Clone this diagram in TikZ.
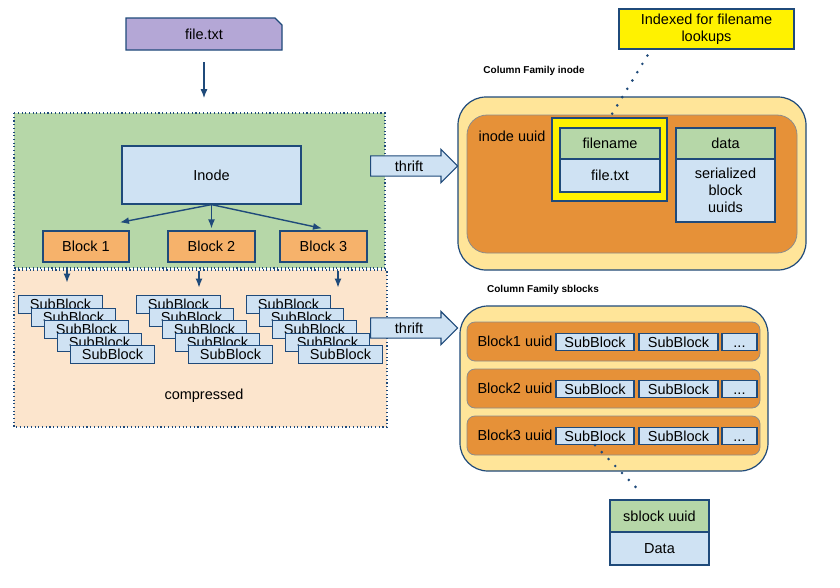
\documentclass[tikz,border=0pt]{standalone}
\usepackage{fontspec}
\setmainfont{Liberation Sans}
\usetikzlibrary{arrows.meta,shapes.arrows}
\definecolor{navy}{HTML}{1F4A7A}
\definecolor{purp}{HTML}{B4A7D6}
\definecolor{green1}{HTML}{B6D7A8}
\definecolor{peach}{HTML}{FCE5CD}
\definecolor{lblue}{HTML}{CFE2F3}
\definecolor{orng}{HTML}{F6B26B}
\definecolor{dorng}{HTML}{E69138}
\definecolor{cream}{HTML}{FFE599}
\begin{document}
\begin{tikzpicture}[x=1pt, y=-1pt,
    every node/.style={font=\fontsize{14.5}{17}\selectfont, inner sep=0pt},
    cellbox/.style={draw=navy, line width=1.2pt, fill=#1},
    arr/.style={-{Latex[length=9pt,width=7pt]}, draw=navy, line width=1.4pt},
    region/.style={draw=navy, line width=1.1pt, dash pattern=on 1.1pt off 2.6pt, fill=#1},
    dotline/.style={draw=navy, line width=2.9pt, line cap=round, dash pattern=on 0pt off 9.7pt},
    cflabel/.style={font=\fontsize{10}{12}\selectfont\bfseries},
    family/.style={draw=navy, line width=1.2pt, fill=cream, rounded corners=28pt},
    rowbox/.style={draw=black!45, line width=0.8pt, fill=dorng},
    thrift/.style={single arrow, draw=navy, line width=1.2pt, fill=lblue,
        single arrow head extend=6.5pt, inner xsep=2pt, inner ysep=4.2pt,
        minimum height=87pt, anchor=tail}]
    \useasboundingbox (0,0) rectangle (840,587);
    \fill[white] (0,0) rectangle (840,587);

    % Regions
    \path[region=green1] (14,113) rectangle (385,268);
    \path[region=peach] (14,270) rectangle (387,427);

    % File
    \filldraw[fill=purp, draw=navy, line width=1.2pt] (126,18) -- (275,18) -- (282,25) -- (282,50) -- (126,50) -- cycle;
    \node[minimum width=156pt, minimum height=32pt] (file) at (204,34) {file.txt};
    \draw[arr] ([yshift=-12pt]file.south) -- ++(0,36);

    % Inode and blocks
    \node[cellbox=lblue, minimum width=179pt, minimum height=58pt] (inode) at (211.5,175) {Inode};
    \node[cellbox=orng, minimum width=86pt, minimum height=31pt] (blk1) at (86,246.5) {Block 1};
    \node[cellbox=orng, minimum width=87pt, minimum height=31pt] (blk2) at (211.5,246.5) {Block 2};
    \node[cellbox=orng, minimum width=87pt, minimum height=31pt] (blk3) at (323.5,246.5) {Block 3};
    \draw[arr] (inode.south) -- ([xshift=34pt,yshift=8pt]blk1.north);
    \draw[arr] (inode.south) -- ([yshift=2pt]blk2.north);
    \draw[arr] (inode.south) -- ([xshift=-1.5pt,yshift=2pt]blk3.north);
    \draw[arr] ([xshift=-19pt,yshift=-4pt]blk1.south) -- ++(0,16);
    \draw[arr] ([xshift=-12.5pt,yshift=-8pt]blk2.south) -- ++(0,17);
    \draw[arr] ([xshift=14.5pt,yshift=-8pt]blk3.south) -- ++(0,17);

    % SubBlock stacks
    \foreach \s/\x in {1/18,2/136,3/246}
        \foreach \i in {0,...,4}
            \node[cellbox=lblue, minimum width=84pt, minimum height=18pt, anchor=north west]
                (sb\s\i) at ({\x+13*\i},{295+12.5*\i}) {SubBlock};
    \node (comp) at (204,396) {compressed};

    % thrift
    \node[thrift] (thr1) at (370,166) {thrift};
    \node[thrift] (thr2) at (370,328) {thrift};

    % Column Family inode
    \node[cflabel] (cfinode) at (534,71) {Column Family inode};
    \node[family, minimum width=348pt, minimum height=173pt] (cfi) at (632,183.5) {};
    \node[rowbox, rounded corners=20pt, minimum width=330pt, minimum height=138pt] (irow) at (632,184) {};
    \node (iuuid) at (512,136) {inode uuid};
    \node[cellbox=yellow, minimum width=115pt, minimum height=83pt] (hilite) at (609.5,159.5) {};
    \node[cellbox=green1, minimum width=100pt, minimum height=31pt] (fname) at (610,143.5) {filename};
    \node[cellbox=lblue, minimum width=100pt, minimum height=33pt] (fval) at (610,175.5) {file.txt};
    \node[cellbox=green1, minimum width=99pt, minimum height=31pt] (dname) at (725.5,143.5) {data};
    \node[cellbox=lblue, minimum width=99pt, minimum height=63pt, align=center] (dval) at (725.5,190.5) {serialized\\block\\uuids};

    % Note
    \node[cellbox=yellow, minimum width=175pt, minimum height=40pt, align=center] (note) at (706.5,29) {Indexed for filename\\lookups};
    \draw[dotline] ([xshift=29pt,yshift=-6pt]note.south west) -- ([xshift=-2pt,yshift=-4pt]hilite.north);

    % Column Family sblocks
    \node[cflabel] (cfsblk) at (543,290) {Column Family sblocks};
    \node[family, minimum width=308pt, minimum height=165pt] (cfs) at (614,388.5) {};
    \foreach \k/\y in {1/341.5,2/388.5,3/435.5} {
        \node[rowbox, rounded corners=8pt, minimum width=293pt, minimum height=39pt] (row\k) at (613.5,\y) {};
        \node (lbl\k) at (515,\y) {Block\k\ uuid};
        \node[cellbox=lblue, minimum width=78pt, minimum height=17pt] (r\k-a) at (595,{\y+0.5}) {SubBlock};
        \node[cellbox=lblue, minimum width=79pt, minimum height=17pt] (r\k-b) at (678.5,{\y+0.5}) {SubBlock};
        \node[cellbox=lblue, minimum width=35pt, minimum height=17pt, text height=10.5pt, text depth=0pt] (r\k-c) at (739.5,{\y+0.5}) {...};
    }

    % sblock
    \node[cellbox=green1, minimum width=99pt, minimum height=32pt] (sbk) at (659.5,516) {sblock uuid};
    \node[cellbox=lblue, minimum width=99pt, minimum height=33pt] (sdata) at (659.5,548.5) {Data};
    \draw[dotline] (r3-a.south) -- ([xshift=-23.5pt,yshift=12pt]sbk.north);
\end{tikzpicture}
\end{document}
